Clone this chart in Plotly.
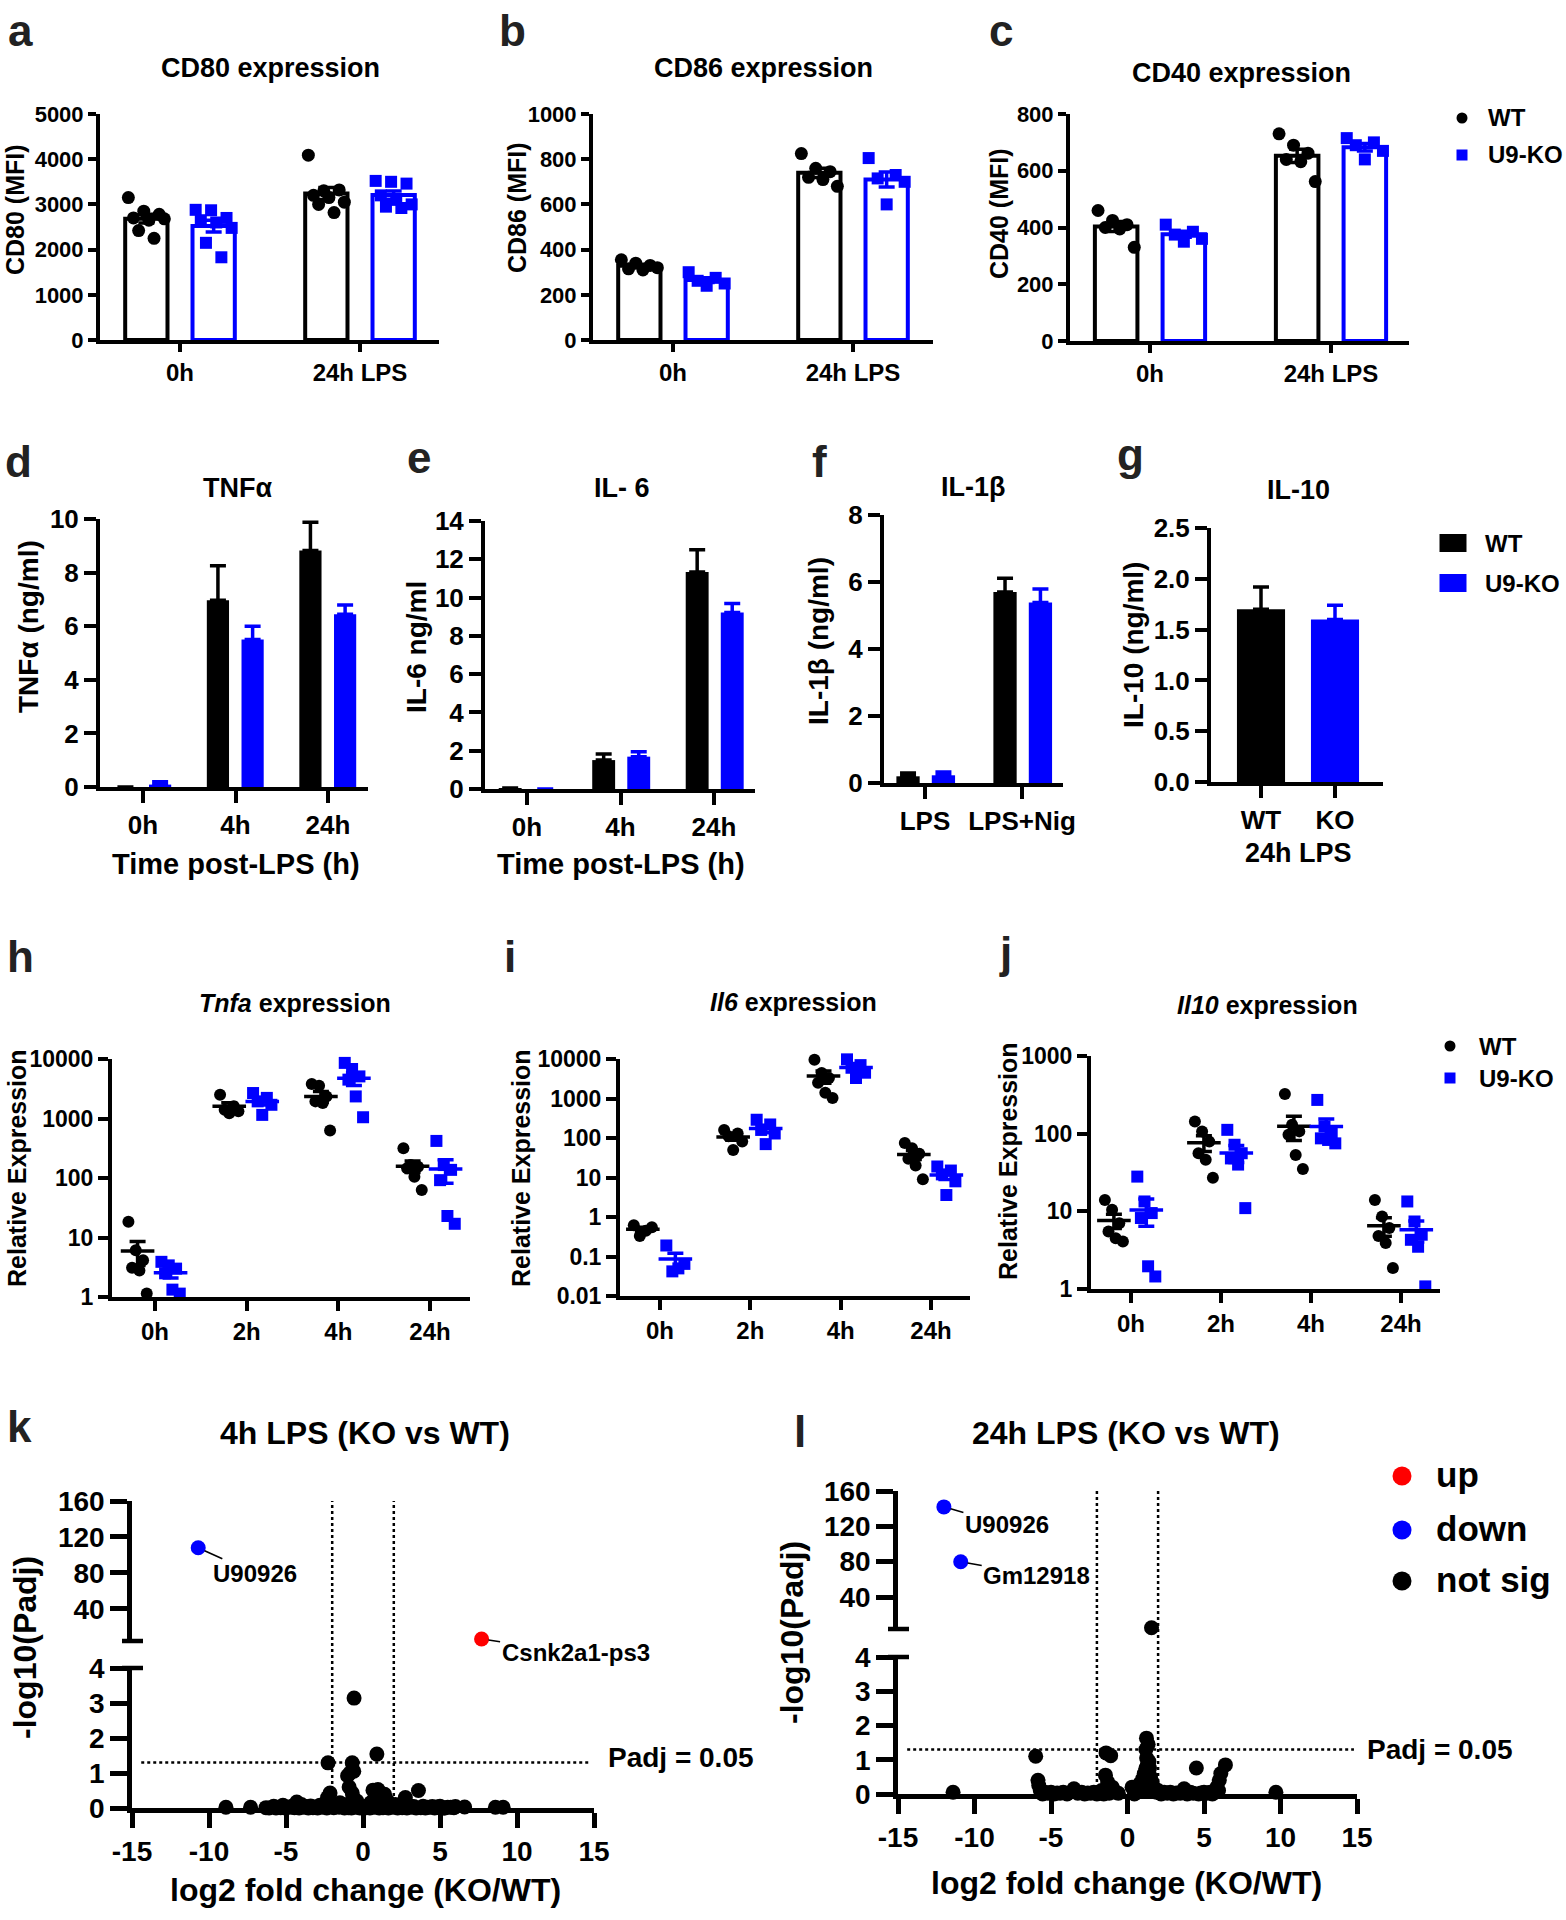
import numpy as np
import plotly.graph_objects as go

W, H = 1566, 1920
BLACK, BLUE, RED = '#000000', '#0000FF', '#FF0000'
FONT = 'Arial, "Liberation Sans", Helvetica, sans-serif'

# ---------------- data ----------------
# a-c: flow cytometry MFI, individual mice; groups = [0h, 24h LPS]
mfi_groups = ["0h", "24h LPS"]
cd80_wt = [[3150, 2850, 2780, 2700, 2650, 2680, 2420, 2250], [4090, 3300, 3320, 3200, 3150, 3050, 3000, 2820]]
cd80_ko = [[2880, 2870, 2700, 2650, 2600, 2480, 2150, 1830], [3520, 3500, 3460, 3200, 3100, 3000, 2950, 2920]]
cd86_wt = [[355, 340, 330, 315, 310, 320], [825, 760, 745, 720, 710, 680]]
cd86_ko = [[300, 275, 262, 250, 240], [805, 730, 715, 700, 600]]
cd40_wt = [[460, 425, 410, 400, 395, 330], [730, 690, 662, 640, 632, 562]]
cd40_ko = [[410, 385, 375, 360, 350], [715, 700, 690, 670, 640]]

# d-g: cytokines (mean, SEM)
time3 = ["0h", "4h", "24h"]
tnf_wt = [0.0, 6.97, 8.82]
tnf_wt_sem = [0.0, 1.29, 1.06]
tnf_ko = [0.09, 5.50, 6.45]
tnf_ko_sem = [0.11, 0.50, 0.34]
il6_wt = [0.05, 1.51, 11.34]
il6_wt_sem = [0.0, 0.32, 1.16]
il6_ko = [0.0, 1.69, 9.22]
il6_ko_sem = [0.0, 0.26, 0.47]
il1b_groups = ["LPS", "LPS+Nig"]
il1b_wt = [0.20, 5.70]
il1b_wt_sem = [0.10, 0.41]
il1b_ko = [0.23, 5.39]
il1b_ko_sem = [0.10, 0.40]
il10_groups = ["WT", "KO"]
il10_vals = [1.70, 1.60]
il10_sem = [0.22, 0.14]

# h-j: relative expression, individual samples; groups = [0h, 2h, 4h, 24h]
time4 = ["0h", "2h", "4h", "24h"]
tnfa_wt = [[18.4, 6.1, 4.15, 3.1, 2.8, 1.14], [2500, 1600, 1400, 1320, 1230],
           [3800, 3550, 2350, 1940, 1820, 630], [315, 165, 155, 146, 105, 63]]
tnfa_ko = [[3.9, 3.4, 3.0, 2.5, 1.33, 1.14], [2680, 2220, 1940, 1700, 1150],
           [8600, 6800, 5100, 4500, 2350, 1050], [420, 165, 137, 92, 23, 17]]
il6e_wt = [[0.62, 0.55, 0.45, 0.33], [160, 130, 110, 82, 50],
           [9600, 4400, 3300, 2500, 1400, 1030], [75, 55, 40, 30, 20, 9]]
il6e_ko = [[0.19, 0.065, 0.05, 0.042], [290, 220, 160, 130, 70],
           [9800, 7000, 6000, 4500, 3300], [19, 15, 12, 8, 3.6]]
il10e_wt = [[14, 10.5, 7, 5.5, 4.5, 4.1], [143, 107, 79, 56, 46, 27],
            [325, 130, 107, 97, 53, 35], [14, 8.6, 6.1, 4.8, 3.9, 1.86]]
il10e_ko = [[28, 13.4, 9.5, 8.2, 1.96, 1.45], [112, 72, 56, 48, 40, 11],
            [272, 124, 101, 87, 83, 75], [13.4, 7.4, 5.0, 4.3, 3.5, 1.08]]

# k-l: volcano plots (not significant genes, then labelled significant ones)
k_ns_x = [-8.9, -7.3, -6.1, -0.58, 0.9, -2.27, -0.7, -0.6, -1.0, -0.85, -2.14, -2.3, -0.7, -0.65,
          0.65, 0.97, 1.4, 3.6, 2.75, -4.3, 5.3, 5.5, 6.6, 8.6, 9.1, 1.2, 0.8, -1.5, -0.4, 0.5,
          -5.8, -5.5, -5.2, -4.9, -4.6, -4.0, -3.7, -3.4, -3.1, -2.8, -2.5, -2.0, -1.7, -1.3,
          -1.1, -0.8, -0.5, -0.3, 0.3, 0.6, 0.9, 1.1, 1.5, 1.8, 2.1, 2.4, 3.0, 3.3, 3.9, 4.2,
          4.5, 4.8, 5.0, 5.7, 6.0, -6.3, -5.65, -5.35, -5.05, -4.75, -4.45, -4.15, -3.85, -3.55,
          -3.25, -2.95, -2.65, -2.35, -1.9, -1.55, -1.2, -0.95, -0.75, -0.45, -0.2, 0.2, 0.45,
          0.75, 1.05, 1.3, 1.65, 1.95, 2.25, 2.55, 2.85, 3.15, 3.45, 3.75, 4.05, 4.35, 4.65,
          4.95, 5.25, 5.9, 1.0, 1.6, 0.7, -0.6, -0.9, -2.2]
k_ns_y = [0.02, 0.02, 0.0, 3.14, 1.54, 1.29, 1.29, 1.05, 0.92, 1.0, 0.43, 0.3, 0.43, 0.3,
          0.51, 0.53, 0.39, 0.5, 0.3, 0.17, 0.0, 0.02, 0.03, 0.02, 0.02, 0.3, 0.25, 0.15, 0.2, 0.15,
          0.05, 0.02, 0.08, 0.03, 0.05, 0.1, 0.04, 0.06, 0.03, 0.08, 0.05, 0.12, 0.06, 0.1,
          0.04, 0.08, 0.1, 0.05, 0.06, 0.1, 0.04, 0.12, 0.08, 0.05, 0.1, 0.03, 0.07, 0.04, 0.05, 0.02,
          0.04, 0.03, 0.05, 0.02, 0.04, 0.01, 0.0, 0.01, 0.0, 0.02, 0.01, 0.0, 0.02, 0.0,
          0.01, 0.0, 0.02, 0.0, 0.01, 0.02, 0.0, 0.01, 0.0, 0.02, 0.0, 0.01, 0.0,
          0.02, 0.0, 0.01, 0.0, 0.02, 0.0, 0.01, 0.0, 0.02, 0.0, 0.01, 0.0, 0.02, 0.0,
          0.01, 0.0, 0.01, 0.18, 0.2, 0.22, 0.18, 0.6, 0.2]
k_down_x = [-10.7]
k_down_y = [108]
k_down_lab = ["U90926"]
k_up_x = [7.7]
k_up_y = [6.7]
k_up_lab = ["Csnk2a1-ps3"]

l_ns_x = [-11.4, -6.0, -5.85, -5.8, -5.7, -5.4, -5.0, -4.6, -4.2, -3.5, -3.0, -2.6, -2.2, -1.4,
          -1.1, -1.44, -1.3, -1.0, -0.8, -1.7, 0.3, 0.5, 0.8, 1.24, 1.2, 1.25, 1.3, 1.44, 1.5,
          1.6, 1.1, 1.0, 1.7, 2.0, 2.4, 2.8, 3.2, 3.7, 4.1, 4.5, 5.0, 5.4, 5.85, 6.0, 6.1, 6.4,
          5.7, 9.7, 1.57, 0.7, 1.9, 4.8, -5.55, -5.2, -4.8, -4.4, -3.95, -3.25, -2.8, -2.4,
          -2.0, -1.85, -1.55, -1.2, -0.9, -0.6, 0.45, 0.6, 0.9, 1.15, 1.35, 1.55, 1.8, 2.2,
          2.6, 3.0, 3.45, 3.9, 4.3, 4.65, 5.2, 5.55, 5.95, 1.3, 1.4, 1.2, 1.35]
l_ns_y = [0.05, 1.1, 0.4, 0.25, 0.1, 0.05, 0.05, 0.03, 0.05, 0.15, 0.05, 0.03, 0.05, 1.2,
          1.12, 0.55, 0.35, 0.2, 0.05, 0.1, 0.2, 0.1, 0.3, 1.63, 1.3, 1.05, 0.85, 0.76, 0.5,
          0.35, 0.6, 0.45, 0.2, 0.1, 0.05, 0.05, 0.03, 0.15, 0.05, 0.76, 0.05, 0.05, 0.2, 0.4, 0.6, 0.85,
          0.08, 0.05, 5.2, 0.1, 0.05, 0.03, 0.0, 0.02, 0.0, 0.02, 0.0, 0.02, 0.0, 0.02,
          0.0, 0.02, 0.0, 0.02, 0.1, 0.02, 0.0, 0.05, 0.1, 0.15, 0.2, 0.25, 0.1, 0.0,
          0.02, 0.0, 0.02, 0.0, 0.02, 0.0, 0.02, 0.0, 0.1, 0.65, 0.95, 0.75, 1.45]
l_down_x = [-12.0, -10.9]
l_down_y = [142, 80]
l_down_lab = ["U90926", "Gm12918"]

# ---------------- helpers ----------------
def fx(p):
    return p / W


def fy(p):
    return 1 - p / H


def axn(i, kind):
    return kind if i == 1 else f'{kind}{i}'


def lkey(i, kind):
    return kind + 'axis' + ('' if i == 1 else str(i))


def cat_range(L, R, cats):
    s = (cats[-1] - cats[0]) / (len(cats) - 1)
    return [(L - cats[0]) / s, (R - cats[0]) / s]


def spread(n, half):
    if n == 1:
        return [0.0]
    base = np.linspace(-half, half, n)
    order = [(k * 3) % n if n % 3 else (k * 2 + k // (n // 2)) % n for k in range(n)]
    seen, out = set(), []
    for o in order:
        if o not in seen:
            seen.add(o)
            out.append(o)
    for o in range(n):
        if o not in seen:
            out.append(o)
    return [float(base[o]) for o in out]


layout = dict(width=W, height=H, margin=dict(l=0, r=0, t=0, b=0, pad=0, autoexpand=False),
              paper_bgcolor='white', plot_bgcolor='rgba(0,0,0,0)', showlegend=False, barmode='overlay',
              font=dict(family=FONT, color=BLACK))
annotations = []
shapes = []
fig = go.Figure()


def tfont(size, color=BLACK):
    return dict(family=FONT, size=size, color=color, weight=700)


AXBASE = dict(showline=True, linecolor=BLACK, ticks='outside', tickcolor=BLACK, showgrid=False,
              zeroline=False, fixedrange=True, automargin=False)


def set_axes(i, xdom, xrng, ydom, yrng, xtv, xtt, ytv, ytt, xfs, yfs, lw=4, tl=9, ytype='linear',
             xtl=None):
    base = dict(AXBASE, linewidth=lw, tickwidth=lw)
    layout[lkey(i, 'x')] = dict(base, domain=[fx(xdom[0]), fx(xdom[1])], range=xrng, anchor=axn(i, 'y'),
                                tickmode='array', tickvals=xtv, ticktext=xtt, tickfont=tfont(xfs),
                                ticklen=tl if xtl is None else xtl)
    layout[lkey(i, 'y')] = dict(base, domain=[fy(ydom[0]), fy(ydom[1])], range=yrng, anchor=axn(i, 'x'),
                                type=ytype, tickmode='array', tickvals=ytv, ticktext=ytt,
                                tickfont=tfont(yfs), ticklen=tl)


def text(t, x, y, size, xanchor='center', angle=0, color=BLACK):
    annotations.append(dict(text=t, x=fx(x), y=fy(y), xref='paper', yref='paper', showarrow=False,
                            xanchor=xanchor, yanchor='middle', textangle=angle, font=tfont(size, color)))


def legend_marker(kind, cx, cy, w, h, color):
    shapes.append(dict(type=kind, xref='paper', yref='paper', x0=fx(cx - w / 2), x1=fx(cx + w / 2),
                       y0=fy(cy + h / 2), y1=fy(cy - h / 2), fillcolor=color, line=dict(width=0)))


def dot_bar_panel(i, wt, ko):
    xa, ya = axn(i, 'x'), axn(i, 'y')
    for groups, color, sym, off in ((wt, BLACK, 'circle', -0.187), (ko, BLUE, 'square', 0.187)):
        xs = [g + off for g in range(len(groups))]
        means = [float(np.mean(v)) for v in groups]
        sems = [float(np.std(v, ddof=1) / np.sqrt(len(v))) for v in groups]
        fig.add_trace(go.Bar(x=xs, y=means, width=0.235, xaxis=xa, yaxis=ya,
                             marker=dict(color='white', line=dict(color=color, width=4))))
        px_, py_ = [], []
        for gi, vals in enumerate(groups):
            for dx, v in zip(spread(len(vals), 0.1), vals):
                px_.append(gi + off + dx)
                py_.append(v)
        fig.add_trace(go.Scatter(x=px_, y=py_, mode='markers', xaxis=xa, yaxis=ya, cliponaxis=False,
                                 marker=dict(symbol=sym, size=13 if sym == 'circle' else 12, color=color)))
        fig.add_trace(go.Scatter(x=xs, y=means, mode='markers', xaxis=xa, yaxis=ya,
                                 marker=dict(size=1, color=color),
                                 error_y=dict(type='data', array=sems, color=color, thickness=3.5, width=8)))


def solid_bar_panel(i, series, width):
    xa, ya = axn(i, 'x'), axn(i, 'y')
    for xs, vals, sems, color in series:
        fig.add_trace(go.Bar(x=xs, y=vals, width=width, xaxis=xa, yaxis=ya,
                             marker=dict(color=color, line=dict(width=0)),
                             error_y=dict(type='data', symmetric=False, array=sems,
                                          arrayminus=[0] * len(vals), color=color, thickness=3.5, width=8)))


def dot_mean_panel(i, wt, ko):
    xa, ya = axn(i, 'x'), axn(i, 'y')
    for groups, color, sym, off in ((wt, BLACK, 'circle', -0.19), (ko, BLUE, 'square', 0.17)):
        px_, py_ = [], []
        for gi, vals in enumerate(groups):
            for dx, v in zip(spread(len(vals), 0.1), vals):
                px_.append(gi + off + dx)
                py_.append(v)
        fig.add_trace(go.Scatter(x=px_, y=py_, mode='markers', xaxis=xa, yaxis=ya, cliponaxis=False,
                                 marker=dict(symbol=sym, size=12, color=color)))
        xs = [g + off for g in range(len(groups))]
        means = [float(np.mean(v)) for v in groups]
        sems = [float(np.std(v, ddof=1) / np.sqrt(len(v))) for v in groups]
        fig.add_trace(go.Scatter(x=xs, y=means, mode='markers', xaxis=xa, yaxis=ya, cliponaxis=False,
                                 marker=dict(symbol='line-ew', size=24, color=color,
                                             line=dict(color=color, width=3.5)),
                                 error_y=dict(type='data', array=sems, color=color, thickness=3.5, width=8)))


def volcano(ix, iylow, iyup, ns_x, ns_y, d_x, d_y, d_lab, u_x, u_y, u_lab, cutoff, leader):
    xa, yl, yu = axn(ix, 'x'), axn(iylow, 'y'), axn(iyup, 'y')
    lo = [(x, y) for x, y in zip(ns_x, ns_y) if y <= cutoff]
    hi = [(x, y) for x, y in zip(ns_x, ns_y) if y > cutoff]
    fig.add_trace(go.Scatter(x=[p[0] for p in lo], y=[p[1] for p in lo], mode='markers', xaxis=xa, yaxis=yl,
                             cliponaxis=False, marker=dict(size=15, color=BLACK)))
    if hi:
        fig.add_trace(go.Scatter(x=[p[0] for p in hi], y=[p[1] for p in hi], mode='markers', xaxis=xa,
                                 yaxis=yu, cliponaxis=False, marker=dict(size=15, color=BLACK)))
    for xs, ys, labs, color in ((d_x, d_y, d_lab, BLUE), (u_x, u_y, u_lab, RED)):
        if not xs:
            continue
        fig.add_trace(go.Scatter(x=xs, y=ys, mode='markers', xaxis=xa, yaxis=yu, cliponaxis=False,
                                 marker=dict(size=15, color=color)))
        for x, y, lab in zip(xs, ys, labs):
            ax, ay = leader[lab]
            annotations.append(dict(text=lab, x=x, y=y, xref=xa, yref=yu, showarrow=True, ax=ax, ay=ay,
                                    arrowhead=0, arrowwidth=1.6, arrowcolor=BLACK, standoff=7,
                                    font=tfont(24)))


# ---------------- row 1: a-c ----------------
set_axes(1, (100, 439), cat_range(100, 439, [180, 360]), (340, 114), [0, 5000], [0, 1], mfi_groups,
         list(range(0, 5001, 1000)), [str(v) for v in range(0, 5001, 1000)], 24, 22, tl=8)
set_axes(2, (593, 933), cat_range(593, 933, [673, 853]), (340, 114), [0, 1000], [0, 1], mfi_groups,
         list(range(0, 1001, 200)), [str(v) for v in range(0, 1001, 200)], 24, 22, tl=8)
set_axes(3, (1070, 1409), cat_range(1070, 1409, [1150, 1331]), (341, 114), [0, 800], [0, 1], mfi_groups,
         list(range(0, 801, 200)), [str(v) for v in range(0, 801, 200)], 24, 22, tl=8)
dot_bar_panel(1, cd80_wt, cd80_ko)
dot_bar_panel(2, cd86_wt, cd86_ko)
dot_bar_panel(3, cd40_wt, cd40_ko)

text('CD80 expression', 270, 68, 27)
text('CD86 expression', 763, 68, 27)
text('CD40 expression', 1241, 73, 27)
text('CD80 (MFI)', 15, 210, 25, angle=-90)
text('CD86 (MFI)', 517, 208, 25, angle=-90)
text('CD40 (MFI)', 999, 214, 25, angle=-90)
legend_marker('circle', 1462, 118, 11, 11, BLACK)
legend_marker('rect', 1462, 155, 11, 11, BLUE)
text('WT', 1486, 118, 24, xanchor='left')
text('U9-KO', 1486, 155, 24, xanchor='left')

# ---------------- row 2: d-g ----------------
set_axes(4, (100, 368), cat_range(100, 368, [143, 236, 328]), (787, 519), [0, 10], [0, 1, 2], time3,
         list(range(0, 11, 2)), [str(v) for v in range(0, 11, 2)], 26, 26, tl=12)
set_axes(5, (485, 755), cat_range(485, 755, [527, 620, 714]), (789, 521), [0, 14], [0, 1, 2], time3,
         list(range(0, 15, 2)), [str(v) for v in range(0, 15, 2)], 26, 26, tl=12)
set_axes(6, (884, 1063), cat_range(884, 1063, [925, 1022]), (783, 515), [0, 8], [0, 1], il1b_groups,
         list(range(0, 9, 2)), [str(v) for v in range(0, 9, 2)], 26, 26, tl=12)
set_axes(7, (1211, 1383), cat_range(1211, 1383, [1261, 1335]), (782, 528), [0, 2.5], [0, 1], il10_groups,
         [0, 0.5, 1.0, 1.5, 2.0, 2.5], ['0.0', '0.5', '1.0', '1.5', '2.0', '2.5'], 26, 26, tl=12)
solid_bar_panel(4, [([k - 0.19 for k in range(3)], tnf_wt, tnf_wt_sem, BLACK),
                    ([k + 0.185 for k in range(3)], tnf_ko, tnf_ko_sem, BLUE)], 0.24)
solid_bar_panel(5, [([k - 0.18 for k in range(3)], il6_wt, il6_wt_sem, BLACK),
                    ([k + 0.195 for k in range(3)], il6_ko, il6_ko_sem, BLUE)], 0.245)
solid_bar_panel(6, [([k - 0.175 for k in range(2)], il1b_wt, il1b_wt_sem, BLACK),
                    ([k + 0.19 for k in range(2)], il1b_ko, il1b_ko_sem, BLUE)], 0.24)
solid_bar_panel(7, [([0], il10_vals[:1], il10_sem[:1], BLACK),
                    ([1], il10_vals[1:], il10_sem[1:], BLUE)], 0.65)

text('TNFα', 237, 488, 27)
text('IL- 6', 622, 488, 27)
text('IL-1β', 973, 487, 27)
text('IL-10', 1298, 490, 27)
text('TNFα (ng/ml)', 28, 627, 28, angle=-90)
text('IL-6 ng/ml', 417, 647, 28, angle=-90)
text('IL-1β (ng/ml)', 818, 641, 28, angle=-90)
text('IL-10 (ng/ml)', 1133, 645, 28, angle=-90)
text('Time post-LPS (h)', 236, 864, 29)
text('Time post-LPS (h)', 621, 864, 29)
text('24h LPS', 1298, 853, 27)
legend_marker('rect', 1453, 543, 27, 18, BLACK)
legend_marker('rect', 1453, 583, 27, 18, BLUE)
text('WT', 1483, 543, 24, xanchor='left')
text('U9-KO', 1483, 583, 24, xanchor='left')

# ---------------- row 3: h-j ----------------
set_axes(8, (112, 470), cat_range(112, 470, [155, 247, 338, 430]), (1297, 1059), [0, 4], [0, 1, 2, 3], time4,
         [1, 10, 100, 1000, 10000], ['1', '10', '100', '1000', '10000'], 24, 23, tl=10, ytype='log')
set_axes(9, (620, 970), cat_range(620, 970, [660, 752, 840, 931]), (1296, 1059), [-2, 4], [0, 1, 2, 3], time4,
         [0.01, 0.1, 1, 10, 100, 1000, 10000], ['0.01', '0.1', '1', '10', '100', '1000', '10000'], 24, 23,
         tl=10, ytype='log')
set_axes(10, (1091, 1440), cat_range(1091, 1440, [1131, 1221, 1311, 1401]), (1289, 1056), [0, 3], [0, 1, 2, 3],
         time4, [1, 10, 100, 1000], ['1', '10', '100', '1000'], 24, 23, tl=10, ytype='log')
dot_mean_panel(8, tnfa_wt, tnfa_ko)
dot_mean_panel(9, il6e_wt, il6e_ko)
dot_mean_panel(10, il10e_wt, il10e_ko)

text('<i>Tnfa</i> expression', 295, 1003, 25)
text('<i>Il6</i> expression', 793, 1002, 25)
text('<i>Il10</i> expression', 1267, 1005, 25)
text('Relative Expression', 17, 1168, 25, angle=-90)
text('Relative Expression', 521, 1168, 25, angle=-90)
text('Relative Expression', 1008, 1161, 25, angle=-90)
legend_marker('circle', 1450, 1046, 11, 11, BLACK)
legend_marker('rect', 1450, 1078, 11, 11, BLUE)
text('WT', 1477, 1046, 24, xanchor='left')
text('U9-KO', 1477, 1078, 24, xanchor='left')

# ---------------- row 4: k-l volcano ----------------
fc_ticks = [-15, -10, -5, 0, 5, 10, 15]
set_axes(11, (132, 594), [-15, 15], (1808, 1668), [0, 4], fc_ticks, [str(v) for v in fc_ticks],
         [0, 1, 2, 3, 4], ['0', '1', '2', '3', '4'], 28, 28, lw=4.5, tl=17, xtl=15)
set_axes(12, (898, 1357), [-15, 15], (1794, 1657), [0, 4], fc_ticks, [str(v) for v in fc_ticks],
         [0, 1, 2, 3, 4], ['0', '1', '2', '3', '4'], 28, 28, lw=4.5, tl=17, xtl=15)
up_base = dict(AXBASE, linewidth=4.5, tickwidth=4.5, ticklen=17, tickmode='array',
               tickvals=[40, 80, 120, 160], ticktext=['40', '80', '120', '160'], tickfont=tfont(28))
layout['yaxis13'] = dict(up_base, domain=[fy(1641), fy(1501)], range=[4.4, 160], anchor='x11')
layout['yaxis14'] = dict(up_base, domain=[fy(1629), fy(1491)], range=[3.8, 160], anchor='x12')

volcano(11, 11, 13, k_ns_x, k_ns_y, k_down_x, k_down_y, k_down_lab, k_up_x, k_up_y, k_up_lab, 4.4,
        {'U90926': (57, 26), 'Csnk2a1-ps3': (94, 14)})
volcano(12, 12, 14, l_ns_x, l_ns_y, l_down_x, l_down_y, l_down_lab, [], [], [], 3.8,
        {'U90926': (63, 18), 'Gm12918': (76, 14)})

for xa, ya, ybot, ytop, axx, brk in (('x11', 'y11', 1808, 1501, 132, (1641, 1668)),
                                     ('x12', 'y12', 1794, 1491, 898, (1629, 1657))):
    for v in (-2, 2):
        shapes.append(dict(type='line', xref=xa, yref='paper', x0=v, x1=v, y0=fy(ybot), y1=fy(ytop),
                           line=dict(color=BLACK, width=2.5, dash='dot'), layer='below'))
    shapes.append(dict(type='line', xref=xa, yref=ya, x0=-14.4, x1=14.8, y0=1.3, y1=1.3,
                       line=dict(color=BLACK, width=2.5, dash='dot'), layer='below'))
    for by in brk:
        shapes.append(dict(type='line', xref='paper', yref='paper', x0=fx(axx - 10), x1=fx(axx + 11),
                           y0=fy(by), y1=fy(by), line=dict(color=BLACK, width=4.5)))

text('4h LPS (KO vs WT)', 365, 1433, 32)
text('24h LPS (KO vs WT)', 1126, 1433, 32)
text('log2 fold change (KO/WT)', 365, 1890, 32)
text('log2 fold change (KO/WT)', 1126, 1883, 32)
text('-log10(Padj)', 25, 1648, 32, angle=-90)
text('-log10(Padj)', 792, 1633, 32, angle=-90)
text('Padj = 0.05', 606, 1757, 28, xanchor='left')
text('Padj = 0.05', 1365, 1749, 28, xanchor='left')
for lab, cy, color in (('up', 1476, RED), ('down', 1530, BLUE), ('not sig', 1581, BLACK)):
    legend_marker('circle', 1402, cy, 19, 19, color)
    text(lab, 1434, cy - 2, 35, xanchor='left')

# ---------------- panel letters ----------------
for lab, x, cy in (('a', 6, 31), ('b', 497, 31), ('c', 987, 31), ('d', 3, 462), ('e', 405, 457),
                   ('f', 810, 461), ('g', 1115, 454), ('h', 5, 956), ('i', 502, 956), ('j', 997, 952),
                   ('k', 5, 1426), ('l', 792, 1431)):
    text(lab, x, cy, 44, xanchor='left', color='#222222')

layout['annotations'] = annotations
layout['shapes'] = shapes
fig.update_layout(**layout)
fig.write_html('out.html', config={'displayModeBar': False},
               post_script="document.body.style.margin='0px';document.body.style.padding='0px';"
                           "document.documentElement.style.margin='0px';")
